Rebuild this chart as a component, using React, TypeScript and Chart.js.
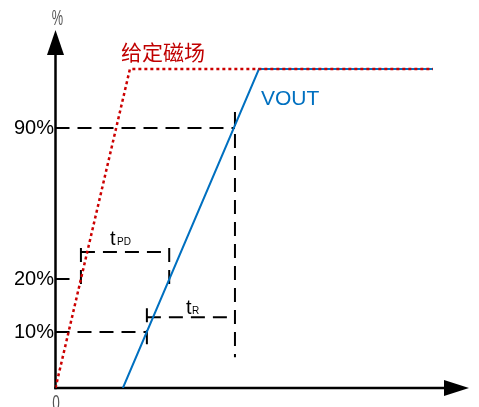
import React, { useEffect, useRef } from 'react';
import { Chart, LinearScale, registerables } from 'chart.js';

// ---- data (schematic timing diagram) ----
const fieldTimes = [0, 18, 91.3];
const fieldLevels = [0, 100, 100];
const voutTimes = [16.3, 49.2, 91.3];
const voutLevels = [0, 100, 100];
const yTickValues = [10, 20, 90];
const yTickLabels = ['10%', '20%', '90%'];
const fieldLabel = '给定磁场';
const voutLabel = 'VOUT';
// crossing times
const tField20 = 6.15;
const tVout10 = 22.1;
const tVout20 = 27.5;
const tVout90 = 43.4;
// bracket levels (%)
const tpdLevel = 32.5;
const trLevel = 12.8;
const tpdTickRange = [18.5, 34.4];
const trTickRange = [7.3, 14.5];
const t90Range = [5.5, 92.7];
const short20End = 3.5;

// ---- schematic (non-uniform) vertical scale ----
const warpValues = [0, 10, 20, 90, 100, 112];
const warpFractions = [0, 0.1564, 0.3045, 0.7263, 0.8911, 1];

function warp(v: number): number {
  for (let i = 1; i < warpValues.length; i++) {
    if (v <= warpValues[i] || i === warpValues.length - 1) {
      const v0 = warpValues[i - 1], v1 = warpValues[i];
      const f0 = warpFractions[i - 1], f1 = warpFractions[i];
      return f0 + ((v - v0) / (v1 - v0)) * (f1 - f0);
    }
  }
  return 0;
}
function unwarp(f: number): number {
  for (let i = 1; i < warpFractions.length; i++) {
    if (f <= warpFractions[i] || i === warpFractions.length - 1) {
      const v0 = warpValues[i - 1], v1 = warpValues[i];
      const f0 = warpFractions[i - 1], f1 = warpFractions[i];
      return v0 + ((f - f0) / (f1 - f0)) * (v1 - v0);
    }
  }
  return 0;
}

class WarpScale extends LinearScale {
  static id = 'warp';
  static defaults = (LinearScale as any).defaults;
  getPixelForValue(value: number) {
    return this.getPixelForDecimal(warp(value));
  }
  getValueForPixel(pixel: number) {
    return unwarp(this.getDecimalForPixel(pixel));
  }
}

Chart.register(...registerables, WarpScale as any);

const BLUE = '#0070C0';
const RED = '#CC0000';
const TEXT_RED = '#C00000';

function seg(x0: number, y0: number, x1: number, y1: number) {
  return [{ x: x0, y: y0 }, { x: x1, y: y1 }];
}

const dashedSegments = [
  seg(0, 90, tVout90, 90),
  seg(tVout90, t90Range[1], tVout90, t90Range[0]),
  seg(0, 10, tVout10, 10),
  seg(tVout10, trTickRange[1], tVout10, trTickRange[0]),
  seg(tVout10, trLevel, tVout90, trLevel),
  seg(0, 20, short20End, 20),
  seg(tField20, tpdLevel, tVout20, tpdLevel),
  seg(tField20, tpdTickRange[1], tField20, tpdTickRange[0]),
  seg(tVout20, tpdTickRange[1], tVout20, tpdTickRange[0]),
];

function narrowText(ctx: CanvasRenderingContext2D, text: string, cx: number, baseline: number, squeeze: number) {
  ctx.save();
  ctx.translate(cx, baseline);
  ctx.scale(squeeze, 1);
  ctx.textAlign = 'center';
  ctx.textBaseline = 'alphabetic';
  ctx.fillText(text, 0, 0);
  ctx.restore();
}

const overlayPlugin = {
  id: 'overlay',
  beforeDatasetsDraw(chart: any) {
    const ctx = chart.ctx as CanvasRenderingContext2D;
    const x = chart.scales.x;
    const y = chart.scales.y;
    const ox = x.getPixelForValue(0);
    const oy = y.getPixelForValue(0);
    const top = chart.chartArea.top;
    const right = chart.chartArea.right;
    ctx.save();
    ctx.strokeStyle = '#000';
    ctx.fillStyle = '#000';
    ctx.lineWidth = 2.5;
    ctx.setLineDash([]);
    // y axis
    ctx.beginPath();
    ctx.moveTo(ox, oy + 1.2);
    ctx.lineTo(ox, top + 20);
    ctx.stroke();
    ctx.beginPath();
    ctx.moveTo(ox, top);
    ctx.lineTo(ox - 8.5, top + 25);
    ctx.lineTo(ox + 8.5, top + 25);
    ctx.closePath();
    ctx.fill();
    // x axis
    ctx.beginPath();
    ctx.moveTo(ox - 1.2, oy);
    ctx.lineTo(right - 20, oy);
    ctx.stroke();
    ctx.beginPath();
    ctx.moveTo(right, oy);
    ctx.lineTo(right - 25, oy - 8);
    ctx.lineTo(right - 25, oy + 8);
    ctx.closePath();
    ctx.fill();
    ctx.restore();
  },
  afterDraw(chart: any) {
    const ctx = chart.ctx as CanvasRenderingContext2D;
    const x = chart.scales.x;
    const y = chart.scales.y;
    const ox = x.getPixelForValue(0);
    const oy = y.getPixelForValue(0);
    ctx.save();
    // y tick labels
    ctx.fillStyle = '#000';
    ctx.font = '20px "Liberation Sans", Arial, sans-serif';
    ctx.textAlign = 'right';
    ctx.textBaseline = 'middle';
    yTickValues.forEach((v, i) => {
      ctx.fillText(yTickLabels[i], ox - 1.5, y.getPixelForValue(v) + 0.5);
    });
    // axis unit & origin (narrow grey glyphs)
    ctx.fillStyle = '#555';
    ctx.font = '22px "Liberation Sans", Arial, sans-serif';
    narrowText(ctx, '%', ox + 2, 25, 0.58);
    narrowText(ctx, '0', ox + 0.5, oy + 22, 0.62);
    // series labels
    ctx.textAlign = 'left';
    ctx.textBaseline = 'middle';
    ctx.fillStyle = TEXT_RED;
    ctx.font = '21px "Noto Sans CJK SC", sans-serif';
    ctx.fillText(fieldLabel, 121, 52);
    ctx.fillStyle = BLUE;
    ctx.font = '21px "Liberation Sans", Arial, sans-serif';
    ctx.textBaseline = 'alphabetic';
    ctx.fillText(voutLabel, 261, 105);
    // tPD and tR
    ctx.fillStyle = '#000';
    const tpdX = (x.getPixelForValue(tField20) + x.getPixelForValue(tVout20)) / 2;
    const tpdY = y.getPixelForValue(tpdLevel) - 7;
    ctx.font = '20px "Liberation Sans", Arial, sans-serif';
    ctx.fillText('t', tpdX - 15, tpdY);
    ctx.font = '10px "Liberation Sans", Arial, sans-serif';
    ctx.fillText('PD', tpdX - 8, tpdY);
    const trX = (x.getPixelForValue(tVout10) + x.getPixelForValue(tVout90)) / 2;
    const trY = y.getPixelForValue(trLevel) - 3;
    ctx.font = '20px "Liberation Sans", Arial, sans-serif';
    ctx.fillText('t', trX - 5, trY);
    ctx.font = '10px "Liberation Sans", Arial, sans-serif';
    ctx.fillText('R', trX + 1, trY);
    ctx.restore();
  },
};

export default function App() {
  const canvasRef = useRef<HTMLCanvasElement | null>(null);

  useEffect(() => {
    if (!canvasRef.current) return;
    const datasets: any[] = [
      {
        data: fieldTimes.map((t, i) => ({ x: t, y: fieldLevels[i] })),
        borderColor: RED,
        borderWidth: 2.5,
        borderDash: [3, 3],
        pointRadius: 0,
        fill: false,
        tension: 0,
      },
      {
        data: voutTimes.map((t, i) => ({ x: t, y: voutLevels[i] })),
        borderColor: BLUE,
        borderWidth: 2,
        pointRadius: 0,
        fill: false,
        tension: 0,
      },
      ...dashedSegments.map((d) => ({
        data: d,
        borderColor: '#000',
        borderWidth: 2,
        borderDash: [14, 8],
        pointRadius: 0,
        fill: false,
        tension: 0,
      })),
    ];
    const chart = new Chart(canvasRef.current, {
      type: 'line',
      data: { datasets },
      options: {
        animation: false,
        responsive: false,
        maintainAspectRatio: false,
        layout: { padding: { left: 55.5, right: 10, top: 30, bottom: 19 } },
        plugins: { legend: { display: false }, tooltip: { enabled: false } },
        events: [],
        scales: {
          x: { type: 'linear', min: 0, max: 100, display: false },
          y: { type: 'warp' as any, min: 0, max: 112, display: false },
        },
      },
      plugins: [overlayPlugin],
    } as any);
    return () => chart.destroy();
  }, []);

  return (
    <div style={{ position: 'fixed', left: 0, top: 0, width: 479, height: 407, background: '#fff' }}>
      <canvas ref={canvasRef} width={479} height={407} style={{ width: 479, height: 407, display: 'block' }} />
    </div>
  );
}
